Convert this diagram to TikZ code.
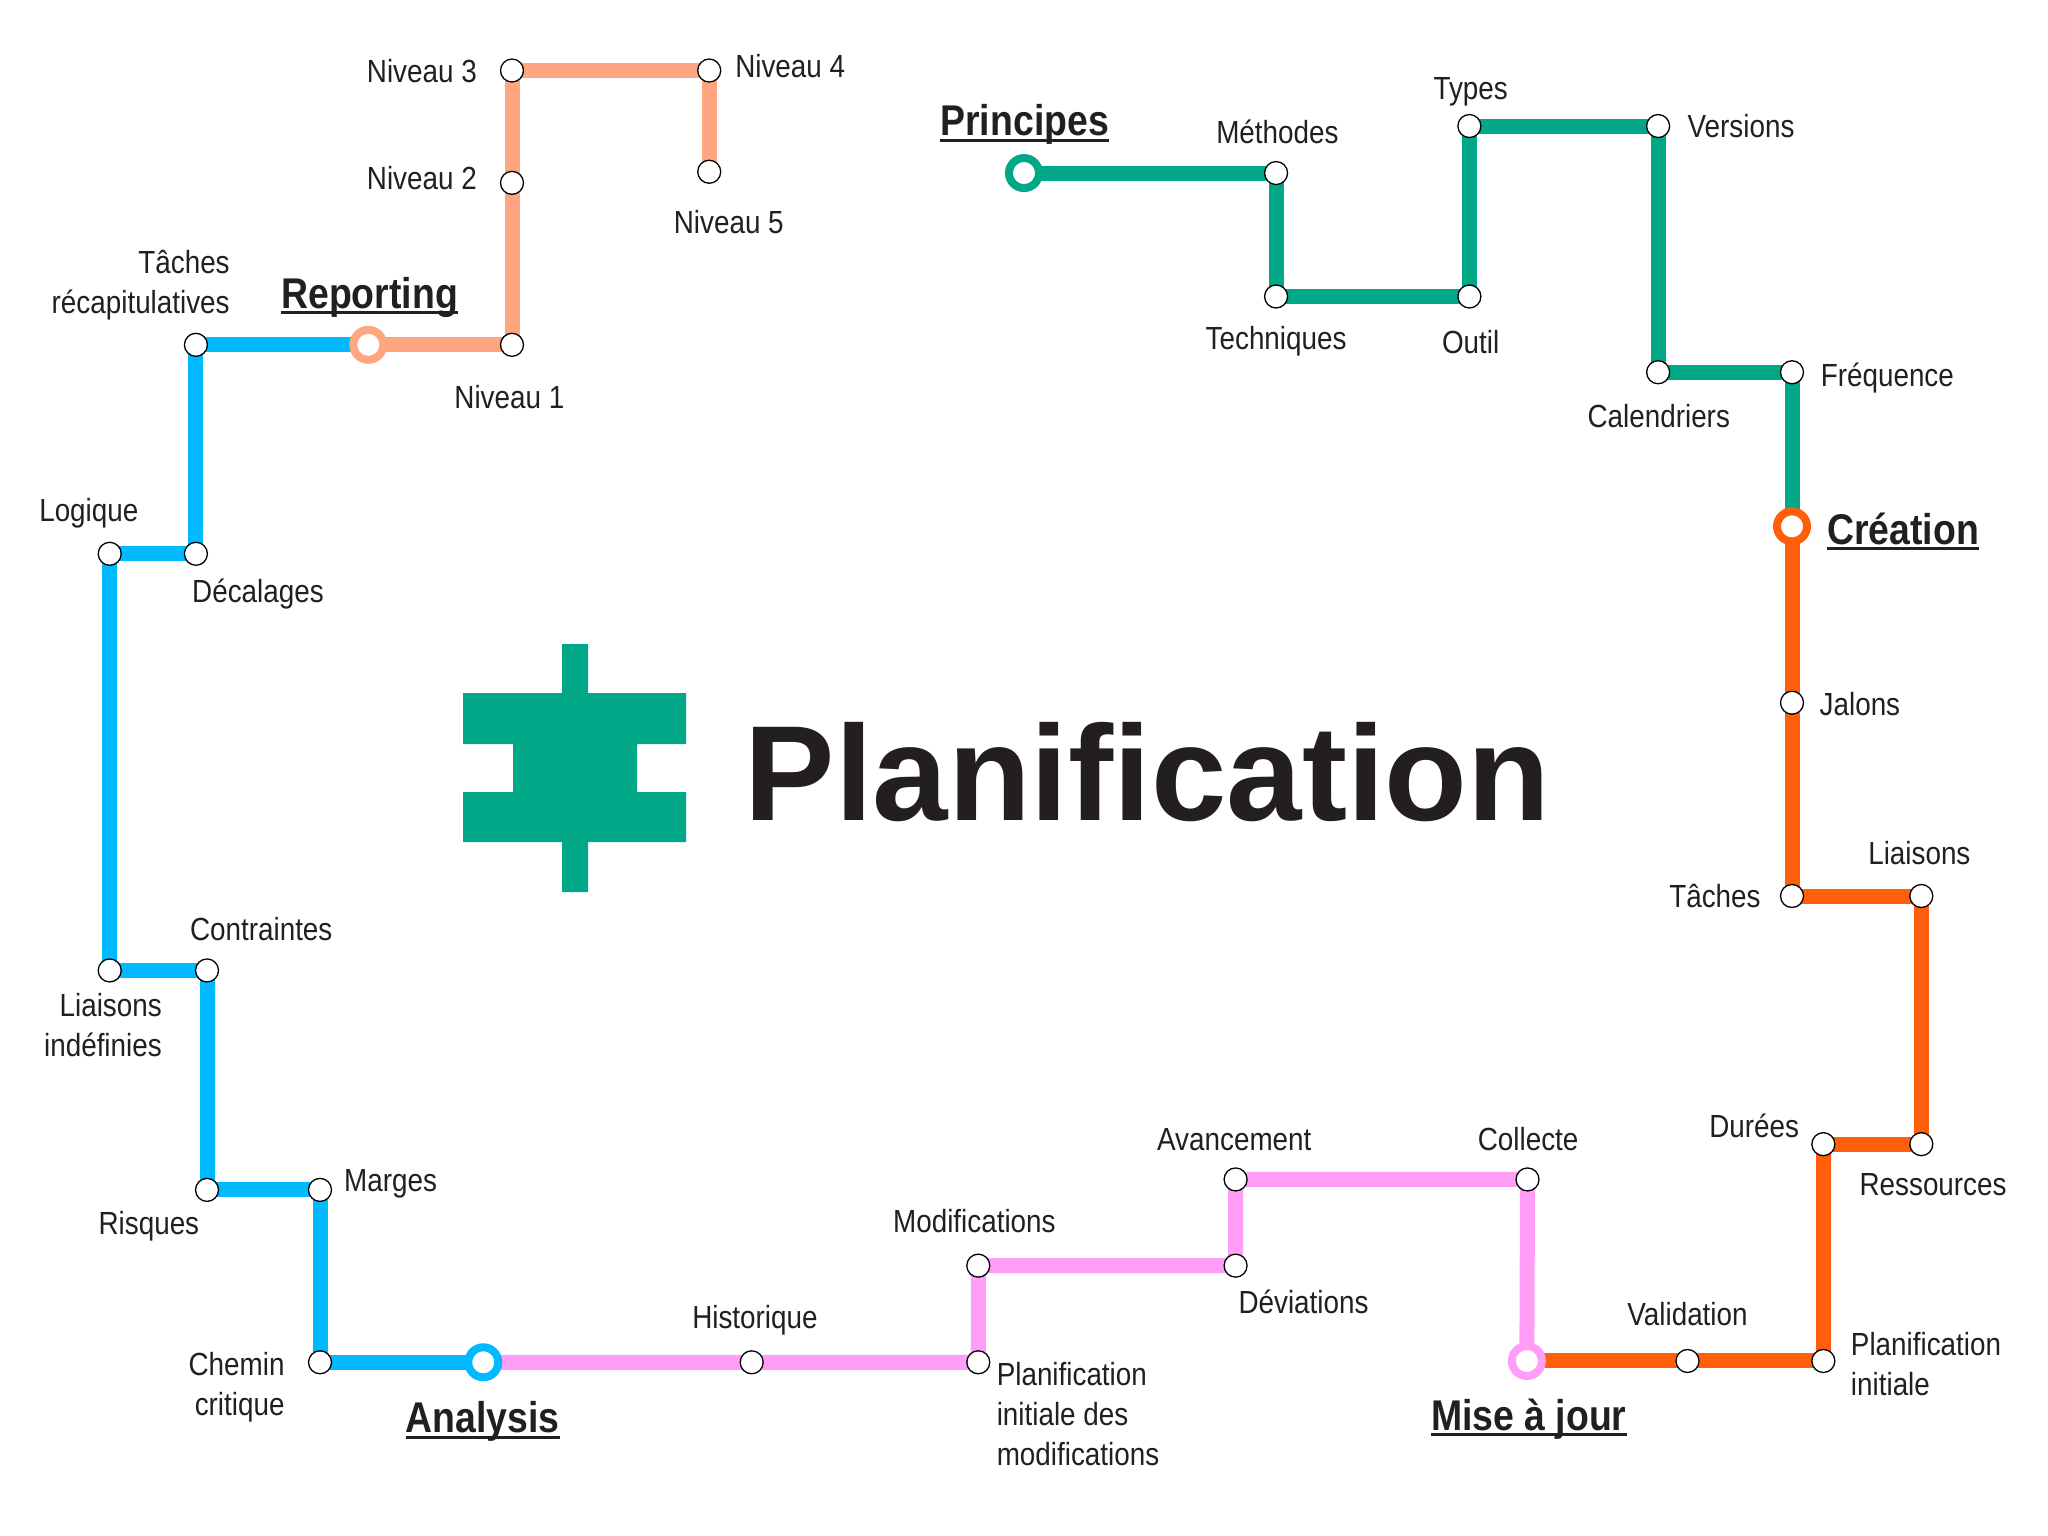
\documentclass[tikz,border=0pt]{standalone}
\usepackage{fontspec}
\setmainfont{Liberation Sans}
\newfontfamily\lblfont[FakeStretch=0.87]{Liberation Sans}
\newfontfamily\hdfont[FakeStretch=0.87]{Liberation Sans Bold}
\usetikzlibrary{backgrounds}
\definecolor{cgreen}{HTML}{00A888}
\definecolor{corange}{HTML}{FF5F0A}
\definecolor{cpink}{HTML}{FF9DF7}
\definecolor{cblue}{HTML}{00B9FF}
\definecolor{csalmon}{HTML}{FFA680}
\definecolor{ctext}{HTML}{231F20}
\newcommand\headul[1]{\sbox0{#1}\rlap{\rule[-6pt]{\wd0}{3pt}}\usebox0}
\tikzset{
  stn/.style={circle,draw=black,line width=1.3pt,fill=white,minimum size=23pt,inner sep=0pt},
  ring/.style={circle,draw=#1,line width=8pt,fill=white,minimum size=30pt,inner sep=0pt},
  lbl/.style={font=\lblfont\fontsize{32}{40}\selectfont,text=ctext,inner sep=0pt,anchor=base},
  lblc/.style={font=\lblfont\fontsize{32}{40}\selectfont,text=ctext,inner sep=0pt,anchor=center,align=center},
  lbll/.style={font=\lblfont\fontsize{32}{40}\selectfont,text=ctext,inner sep=0pt,anchor=west,align=left},
  lblr/.style={font=\lblfont\fontsize{32}{40}\selectfont,text=ctext,inner sep=0pt,anchor=east,align=right},
  hd/.style={font=\hdfont\fontsize{43}{50}\selectfont,text=ctext,inner sep=0pt,anchor=base},
  metro/.style={line width=15pt,draw=#1,line cap=butt,line join=miter},
}
\begin{document}
\begin{tikzpicture}[x=1.30612pt,y=-1.30612pt]
\useasboundingbox (0,0) rectangle (1568,1176);
% rings
\node[ring=cgreen] (principes) at (784,132.5) {};
\node[ring=corange] (creation) at (1372,403) {};
\node[ring=cpink] (miseajour) at (1169,1042) {};
\node[ring=cblue] (analysis) at (370,1043) {};
\node[ring=csalmon] (reporting) at (282,264) {};
% stations
\node[stn] (methodes) at (977,132.5) {};
\node[stn] (techniques) at (977,227) {};
\node[stn] (outil) at (1125,227) {};
\node[stn] (types) at (1125,96.5) {};
\node[stn] (versions) at (1269.5,96.5) {};
\node[stn] (calendriers) at (1269.5,285) {};
\node[stn] (frequence) at (1372,285) {};
\node[stn] (jalons) at (1372,538) {};
\node[stn] (taches) at (1372,686) {};
\node[stn] (liaisons) at (1471,686) {};
\node[stn] (ressources) at (1471,876) {};
\node[stn] (durees) at (1396,876) {};
\node[stn] (planinit) at (1396,1042) {};
\node[stn] (validation) at (1292,1042) {};
\node[stn] (collecte) at (1169.5,903) {};
\node[stn] (avancement) at (946,903) {};
\node[stn] (deviations) at (946,969) {};
\node[stn] (modifs) at (749,969) {};
\node[stn] (planmod) at (749,1043) {};
\node[stn] (historique) at (575.5,1043) {};
\node[stn] (chemin) at (245,1043) {};
\node[stn] (marges) at (245,911) {};
\node[stn] (risques) at (158.5,911) {};
\node[stn] (contraintes) at (158.5,743) {};
\node[stn] (liaisonsind) at (84,743) {};
\node[stn] (logique) at (84,424) {};
\node[stn] (decalages) at (150,424) {};
\node[stn] (tachesrec) at (150,264) {};
\node[stn] (niv1) at (392,264) {};
\node[stn] (niv2) at (392,140) {};
\node[stn] (niv3) at (392,54) {};
\node[stn] (niv4) at (543,54) {};
\node[stn] (niv5) at (543,131.5) {};
% lines
\begin{scope}[on background layer]
\draw[metro=cgreen] (principes.center) -- (methodes.center) -- (techniques.center) -- (outil.center) -- (types.center) -- (versions.center) -- (calendriers.center) -- (frequence.center) -- (creation.center);
\draw[metro=corange] (creation.center) -- (jalons.center) -- (taches.center) -- (liaisons.center) -- (ressources.center) -- (durees.center) -- (planinit.center) -- (validation.center) -- (miseajour.center);
\draw[metro=cpink] (miseajour.center) -- (collecte.center) -- (avancement.center) -- (deviations.center) -- (modifs.center) -- (planmod.center) -- (historique.center) -- (analysis.center);
\draw[metro=cblue] (analysis.center) -- (chemin.center) -- (marges.center) -- (risques.center) -- (contraintes.center) -- (liaisonsind.center) -- (logique.center) -- (decalages.center) -- (tachesrec.center) -- (reporting.center);
\draw[metro=csalmon] (reporting.center) -- (niv1.center) -- (niv2.center) -- (niv3.center) -- (niv4.center) -- (niv5.center);
\end{scope}
% headings
\node[hd] (hprincipes) at (784.5,104) {\headul{Principes}};
\node[hd] (hcreation) at (1457,416.5) {\headul{Création}};
\node[hd] (hmise) at (1170.5,1095) {\headul{Mise à jour}};
\node[hd] (hanalysis) at (369.5,1097) {\headul{Analysis}};
\node[hd] (hreporting) at (283,236) {\headul{Reporting}};
% labels
\node[lbl] (lmethodes) at (978,110) {Méthodes};
\node[lbl] (ltypes) at (1126,76.5) {Types};
\node[lbl] (lversions) at (1333,105) {Versions};
\node[lbl] (ltechniques) at (977,267.5) {Techniques};
\node[lbl] (loutil) at (1126,271) {Outil};
\node[lbl] (lcal) at (1270,327) {Calendriers};
\node[lbl] (lfreq) at (1445,296) {Fréquence};
\node[lbl] (ljalons) at (1424,548) {Jalons};
\node[lbl] (lliaisons) at (1469.5,662) {Liaisons};
\node[lbl] (ltaches) at (1313,695) {Tâches};
\node[lbl] (lress) at (1480,915) {Ressources};
\node[lbl] (ldurees) at (1343,871) {Durées};
\node[lbll] (lplaninit) at (1417,1044) {Planification\\initiale};
\node[lbl] (lvalid) at (1292,1015) {Validation};
\node[lbl] (lcollecte) at (1170,881) {Collecte};
\node[lbl] (lavanc) at (945,881) {Avancement};
\node[lbl] (ldev) at (998,1006) {Déviations};
\node[lbl] (lmodifs) at (746,944) {Modifications};
\node[lbll] (lplanmod) at (763,1083) {Planification\\initiale des\\modifications};
\node[lbl] (lhist) at (578,1017) {Historique};
\node[lblr] (lchemin) at (218,1062) {Chemin\hspace{3pt}\\critique};
\node[lbl] (lmarges) at (299,912) {Marges};
\node[lbl] (lrisques) at (114,945) {Risques};
\node[lbl] (lcontr) at (200,720) {Contraintes};
\node[lblr] (lliaisonsind) at (124,785) {Liaisons\\indéfinies};
\node[lbl] (llogique) at (68,399) {Logique};
\node[lbl] (ldecal) at (197.5,461) {Décalages};
\node[lblr] (ltachesrec) at (176,218) {Tâches\\récapitulatives};
\node[lbl] (lniv1) at (390,313) {Niveau 1};
\node[lbl] (lniv2) at (323,145) {Niveau 2};
\node[lbl] (lniv3) at (323,63) {Niveau 3};
\node[lbl] (lniv4) at (605,59) {Niveau 4};
\node[lbl] (lniv5) at (558,179) {Niveau 5};
% icon
\begin{scope}[x=1pt,y=-1pt]
\fill[cgreen] (562,644) -- (588,644) -- (588,693) -- (686,693) -- (686,744) -- (637,744) -- (637,792) -- (686,792) -- (686,842) -- (588,842) -- (588,892) -- (562,892) -- (562,842) -- (463,842) -- (463,792) -- (513,792) -- (513,744) -- (463,744) -- (463,693) -- (562,693) -- cycle;
\end{scope}
% title
\node[font=\fontsize{135.5}{140}\bfseries\selectfont,text=ctext,inner sep=0pt,anchor=base west] (title) at (570,628) {Planification};
\end{tikzpicture}
\end{document}
